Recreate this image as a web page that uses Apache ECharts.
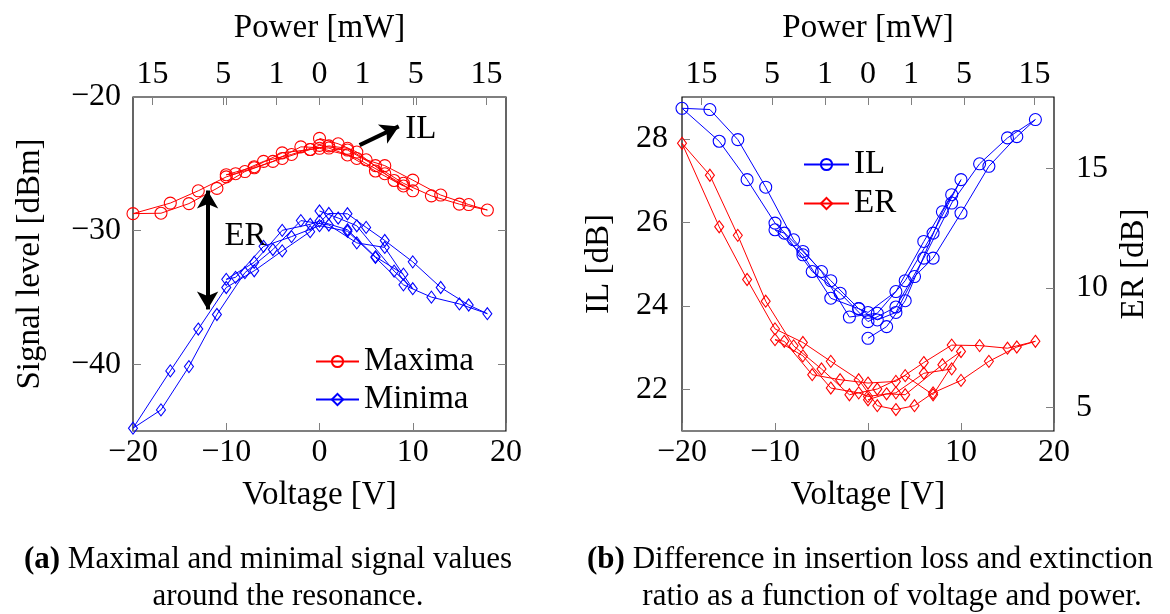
<!DOCTYPE html>
<html><head><meta charset="utf-8">
<script src="https://cdn.jsdelivr.net/npm/echarts@6/dist/echarts.min.js"></script>
<style>html,body{margin:0;padding:0;background:#fff}#c{width:1170px;height:614px}</style>
</head><body><div id="c"></div>
<script>
// Sweep order of the measurement (voltage in V)
const voltage = [0,2,4,8,10, 7,4,1,-2,-5,-8,-11,-14,-17,-20, -16,-13,-10,-7,-4,-1,1,3,5,7,10,13,16,18, 15,12,9,6,3,0,-3,-6,-9,-10, -7,-4,-1,0,3,6,9];
// (b) insertion loss [dB]
const ilValues = [23.22,23.50,24.12,26.25,27.02, 25.74,24.60,23.82,23.73,24.82,25.58,26.84,27.98,28.70,28.73, 27.94,27.02,25.98,25.30,24.60,23.93,23.66,23.84,24.70,25.14,26.22,27.34,28.05,28.46, 28.02,27.40,26.46,25.14,23.97,23.62,24.30,24.82,25.74,25.82, 25.22,24.18,23.93,23.84,24.34,25.54,26.66];
// (b) extinction ratio [dB]
const erValues = [5.31,5.56,5.52,6.78,7.33, 5.52,6.32,5.76,5.52,6.60,7.57,9.44,12.20,14.72,16.06, 12.56,10.35,8.28,7.71,6.92,6.15,5.06,4.90,5.06,5.60,6.12,6.92,7.52,7.76, 7.47,7.58,7.60,6.87,6.08,6.01,6.15,6.36,7.76,7.83, 7.15,5.80,5.60,5.45,5.60,6.42,6.60];
// (a) maxima [dBm]
const maximaValues = [-23.10,-23.50,-24.12,-26.25,-27.02, -25.74,-24.60,-23.82,-23.73,-24.82,-25.58,-26.84,-27.98,-28.70,-28.73, -27.94,-27.02,-25.98,-25.30,-24.60,-23.93,-23.66,-23.84,-24.70,-25.14,-26.22,-27.34,-28.05,-28.46, -28.02,-27.40,-26.46,-25.14,-23.97,-23.62,-24.30,-24.82,-25.74,-25.82, -25.22,-24.18,-23.93,-23.84,-24.34,-25.54,-26.66];
// (a) minima [dBm]
const minimaValues = [-28.53,-29.06,-29.64,-33.03,-34.35, -31.26,-30.92,-29.58,-29.25,-31.42,-33.15,-36.28,-40.18,-43.42,-44.79, -40.50,-37.37,-34.26,-33.01,-31.52,-30.08,-28.72,-28.74,-29.76,-30.74,-32.34,-34.26,-35.57,-36.22, -35.49,-34.98,-34.06,-32.01,-30.05,-29.63,-30.45,-31.18,-33.50,-33.65, -32.37,-29.98,-29.53,-29.29,-29.94,-31.96,-33.26];

const voltageTicks = [-20,-10,0,10,20];
const powerTickVoltages = [-17.9,-10.33,-4.62,0,4.62,10.33,17.9];
const powerTickLabels = ['15','5','1','0','1','5','15'];
const signalTicks = [-40,-30,-20];
const ilTicks = [22,24,26,28];
const erTicks = [5,10,15];

const FONT = 'Liberation Serif';
const FS = 32;
const FT = 33;
const TICK = {inside:true, length:8, lineStyle:{color:'#808080', width:1}};
function fmt(v){ return v < 0 ? '\u2212' + (-v) : String(v); }
function powerLabel(v){ const i = powerTickVoltages.findIndex(p => Math.abs(p - v) < 1e-6); return i >= 0 ? powerTickLabels[i] : ''; }
const txt = {fontSize:FS, fontFamily:FONT, color:'#000'};
const ttl = {fontSize:FT, fontFamily:FONT, color:'#000'};
const noLine = {show:false, onZero:false};

function bottomAxis(g){
  return {type:'value', gridIndex:g, position:'bottom', min:-20, max:20, interval:10,
    axisLine:noLine, splitLine:{show:false},
    axisTick:Object.assign({show:true}, TICK),
    axisLabel:Object.assign({formatter:fmt, margin:6}, txt),
    name:'Voltage [V]', nameLocation:'middle', nameGap:48, nameTextStyle:ttl};
}
function topAxis(g, mirror){
  const tv = mirror ? powerTickVoltages.concat([-10,10]) : powerTickVoltages;
  return {type:'value', gridIndex:g, position:'top', min:-20, max:20,
    axisLine:noLine, splitLine:{show:false},
    axisTick:Object.assign({show:true, customValues:tv}, TICK),
    axisLabel:Object.assign({customValues:powerTickVoltages, formatter:powerLabel, margin:6}, txt),
    name:'Power [mW]', nameLocation:'middle', nameGap:52, nameTextStyle:ttl};
}
function pts(ys){ return voltage.map((v, i) => [v, ys[i]]); }

const red = '#ff0000', blue = '#0000ff';
const circleStyle = c => ({color:'rgba(0,0,0,0)', borderColor:c, borderWidth:1.1});

const option = {
  animation:false,
  backgroundColor:'#fff',
  textStyle:{fontFamily:FONT},
  grid:[
    {left:133, top:97, width:373, height:334, show:true, borderColor:'#000', borderWidth:1.2, backgroundColor:'rgba(0,0,0,0)'},
    {left:682, top:97, width:372, height:334, show:true, borderColor:'#000', borderWidth:1.2, backgroundColor:'rgba(0,0,0,0)'}
  ],
  xAxis:[bottomAxis(0), topAxis(0, true), bottomAxis(1), topAxis(1, false)],
  yAxis:[
    {type:'value', gridIndex:0, position:'left', min:-45, max:-20,
      axisLine:noLine, splitLine:{show:false},
      axisTick:Object.assign({show:true, customValues:signalTicks}, TICK),
      axisLabel:Object.assign({customValues:signalTicks, formatter:fmt, margin:12}, txt),
      name:'Signal level [dBm]', nameLocation:'middle', nameRotate:90, nameGap:86, nameTextStyle:ttl},
    {type:'value', gridIndex:0, position:'right', min:-45, max:-20,
      axisLine:noLine, splitLine:{show:false},
      axisTick:Object.assign({show:true, customValues:signalTicks}, TICK),
      axisLabel:{show:false}},
    {type:'value', gridIndex:1, position:'left', min:21, max:29,
      axisLine:noLine, splitLine:{show:false},
      axisTick:Object.assign({show:true, customValues:ilTicks}, TICK),
      axisLabel:Object.assign({customValues:ilTicks, formatter:fmt, margin:14}, txt),
      name:'IL [dB]', nameLocation:'middle', nameRotate:90, nameGap:66, nameTextStyle:ttl},
    {type:'value', gridIndex:1, position:'right', min:4, max:18,
      axisLine:noLine, splitLine:{show:false},
      axisTick:Object.assign({show:true, customValues:erTicks}, TICK),
      axisLabel:Object.assign({customValues:erTicks, formatter:fmt, margin:22}, txt),
      name:'ER [dB]', nameLocation:'middle', nameRotate:90, nameGap:64, nameTextStyle:ttl}
  ],
  legend:[
    {data:['Maxima','Minima'], orient:'vertical', left:315, top:345, padding:0, itemGap:5,
      itemWidth:43, itemHeight:14, textStyle:Object.assign({lineHeight:32}, ttl)},
    {data:['IL','ER'], orient:'vertical', left:803, top:148, padding:0, itemGap:6,
      itemWidth:45, itemHeight:14, textStyle:Object.assign({lineHeight:32}, ttl)}
  ],
  series:[
    {name:'Maxima', type:'line', xAxisIndex:0, yAxisIndex:0, data:pts(maximaValues),
      symbol:'circle', symbolSize:12, showAllSymbol:true, itemStyle:circleStyle(red),
      lineStyle:{color:red, width:1}, z:3,
      markLine:{silent:true, animation:false, label:{show:false},
        lineStyle:{color:'#000', width:4, type:'solid'}, symbolSize:[16,18],
        data:[
          [{coord:[4.3,-23.6], symbol:'none'}, {coord:[8.5,-22.2], symbol:'arrow'}],
          [{coord:[-12,-27.0], symbol:'arrow'}, {coord:[-12,-35.9], symbol:'arrow'}]
        ]}},
    {name:'Minima', type:'line', xAxisIndex:0, yAxisIndex:0, data:pts(minimaValues),
      symbol:'diamond', symbolSize:[9,12], showAllSymbol:true, itemStyle:circleStyle(blue),
      lineStyle:{color:blue, width:1}, z:3},
    {name:'IL', type:'line', xAxisIndex:2, yAxisIndex:2, data:pts(ilValues),
      symbol:'circle', symbolSize:12, showAllSymbol:true, itemStyle:circleStyle(blue),
      lineStyle:{color:blue, width:1}, z:3},
    {name:'ER', type:'line', xAxisIndex:2, yAxisIndex:3, data:pts(erValues),
      symbol:'diamond', symbolSize:[9,12], showAllSymbol:true, itemStyle:circleStyle(red),
      lineStyle:{color:red, width:1}, z:3}
  ]
};

const chart = echarts.init(document.getElementById('c'));
chart.setOption(option);

const ilPos = chart.convertToPixel({xAxisIndex:0, yAxisIndex:0}, [9.2, -22.45]);
const erPos = chart.convertToPixel({xAxisIndex:0, yAxisIndex:0}, [-10.2, -30.45]);
const capFont = '31px "' + FONT + '"';
const capRich = {b:{fontWeight:'bold', fontSize:31, fontFamily:FONT}};
chart.setOption({graphic:[
  {type:'text', left:ilPos[0], top:ilPos[1]-17, style:{text:'IL', font:FT+'px "'+FONT+'"', fill:'#000'}},
  {type:'text', left:erPos[0], top:erPos[1]-17, style:{text:'ER', font:FT+'px "'+FONT+'"', fill:'#000'}},
  {type:'text', x:268, y:560, style:{text:'{b|(a)} Maximal and minimal signal values', rich:capRich, font:capFont, fill:'#000', align:'center', verticalAlign:'middle'}},
  {type:'text', x:288, y:597, style:{text:'around the resonance.', font:capFont, fill:'#000', align:'center', verticalAlign:'middle'}},
  {type:'text', x:870, y:560, style:{text:'{b|(b)} Difference in insertion loss and extinction', rich:capRich, font:capFont, fill:'#000', align:'center', verticalAlign:'middle'}},
  {type:'text', x:892, y:597, style:{text:'ratio as a function of voltage and power.', font:capFont, fill:'#000', align:'center', verticalAlign:'middle'}}
]});
</script>
</body></html>
